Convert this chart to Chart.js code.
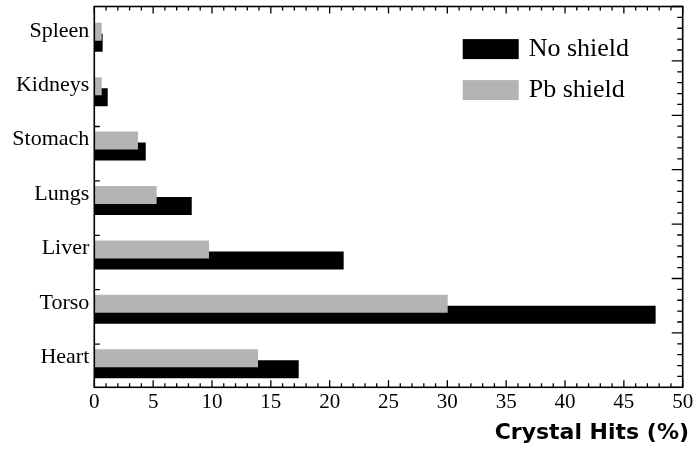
<!DOCTYPE html>
<html>
<head>
<meta charset="utf-8">
<script src="https://cdn.jsdelivr.net/npm/chart.js@4"></script>
<style>
  html, body { margin: 0; padding: 0; background: #fff; }
  #wrap { width: 697px; height: 450px; }
</style>
</head>
<body>
<div id="wrap"><canvas id="c" width="697" height="450"></canvas></div>
<script>
// ---- data ----
const organs = ['Spleen', 'Kidneys', 'Stomach', 'Lungs', 'Liver', 'Torso', 'Heart'];
const noShield = [0.71, 1.14, 4.37, 8.28, 21.19, 47.7, 17.37];
const pbShield = [0.63, 0.63, 3.71, 5.30, 9.75, 30.03, 13.91];
const seriesNames = ['No shield', 'Pb shield'];
const xTicks = [0, 5, 10, 15, 20, 25, 30, 35, 40, 45, 50];
const xTitle = 'Crystal Hits (%)';

const BLACK = '#000000';
const GRAY = '#b3b3b3';
const FRAME_SHIFT = 3.6;

// frame, ticks of all four sides
const framePlugin = {
  id: 'frame',
  afterDraw(chart) {
    const {ctx, chartArea, scales} = chart;
    const xs = scales.x, ys = scales.y;
    const L = chartArea.left, R = chartArea.right;
    const T = chartArea.top - FRAME_SHIFT, B = chartArea.bottom - FRAME_SHIFT;
    ctx.save();
    ctx.strokeStyle = '#000';
    ctx.lineWidth = 1.6;
    ctx.strokeRect(L, T, R - L, B - T);
    ctx.lineWidth = 1.3;
    ctx.beginPath();
    // top & bottom ticks (x axis)
    for (let v = xTicks[0]; v <= xTicks[xTicks.length - 1]; v += 1) {
      const px = xs.getPixelForValue(v);
      const len = (v % 5 === 0) ? 7 : 4;
      ctx.moveTo(px, B); ctx.lineTo(px, B - len);
      ctx.moveTo(px, T); ctx.lineTo(px, T + len);
    }
    // right ticks
    const band = ys.getPixelForValue(1) - ys.getPixelForValue(0);
    const step = band / 5;
    for (let k = 0; B - k * step >= T - 0.5; k++) {
      const py = B - k * step;
      const len = (k % 5 === 0) ? 11 : 5.5;
      ctx.moveTo(R, py); ctx.lineTo(R - len, py);
    }
    // left ticks
    for (let i = 1; i <= organs.length - 2; i++) {
      const py = ys.getPixelForValue(i + 0.64);
      ctx.moveTo(L, py); ctx.lineTo(L + 5.5, py);
    }
    ctx.stroke();
    ctx.restore();
  }
};

// legend box inside plot
const legendPlugin = {
  id: 'boxLegend',
  afterDraw(chart) {
    const {ctx, chartArea} = chart;
    const ds = chart.data.datasets.slice().reverse();
    const bx = chartArea.right - 220;
    const tops = [chartArea.top + 29, chartArea.top + 70];
    ctx.save();
    ctx.font = '26px "Liberation Serif", "Times New Roman", serif';
    ctx.textBaseline = 'middle';
    ctx.textAlign = 'left';
    ds.forEach((d, i) => {
      ctx.fillStyle = d.backgroundColor;
      ctx.fillRect(bx, tops[i], 56, 20);
      ctx.fillStyle = '#000';
      ctx.fillText(d.label, bx + 66, tops[i] + 10);
    });
    ctx.restore();
  }
};

new Chart(document.getElementById('c'), {
  type: 'bar',
  data: {
    labels: organs,
    datasets: [
      { label: seriesNames[1], data: pbShield, backgroundColor: GRAY, borderWidth: 0 },
      { label: seriesNames[0], data: noShield, backgroundColor: BLACK, borderWidth: 0 }
    ]
  },
  options: {
    indexAxis: 'y',
    responsive: false,
    animation: false,
    devicePixelRatio: 1,
    categoryPercentage: 0.4044,
    barPercentage: 1.636,
    layout: { padding: { left: 0, right: 8, top: 10.1, bottom: 0 } },
    plugins: {
      legend: { display: false },
      tooltip: { enabled: false },
      title: {
        display: true,
        text: xTitle,
        position: 'bottom',
        align: 'end',
        color: '#000',
        font: { family: '"DejaVu Sans", sans-serif', size: 22, weight: 'bold', lineHeight: 1.2 },
        padding: { top: 0, bottom: 3.8 }
      }
    },
    scales: {
      x: {
        type: 'linear',
        position: 'bottom',
        min: xTicks[0],
        max: xTicks[xTicks.length - 1],
        grid: { display: false, drawTicks: false },
        border: { display: false },
        ticks: {
          stepSize: 5,
          autoSkip: false,
          maxRotation: 0,
          padding: 0.6,
          color: '#000',
          font: { family: '"Liberation Serif", "Times New Roman", serif', size: 21, lineHeight: 1 }
        },
        afterFit(s) { s.height = 28.9; }
      },
      y: {
        type: 'category',
        position: 'left',
        grid: { display: false, drawTicks: false },
        border: { display: false },
        ticks: {
          padding: 5,
          labelOffset: -6.5,
          color: '#000',
          font: { family: '"Liberation Serif", "Times New Roman", serif', size: 22 }
        },
        afterFit(s) { s.width = 94.3; s.paddingTop = 0; s.paddingBottom = 0; }
      },
      yR: {
        type: 'linear',
        position: 'right',
        display: true,
        grid: { display: false, drawTicks: false },
        border: { display: false },
        ticks: { display: false },
        afterFit(s) { s.width = 6.3; s.paddingTop = 0; s.paddingBottom = 0; }
      }
    }
  },
  plugins: [framePlugin, legendPlugin]
});
</script>
</body>
</html>
